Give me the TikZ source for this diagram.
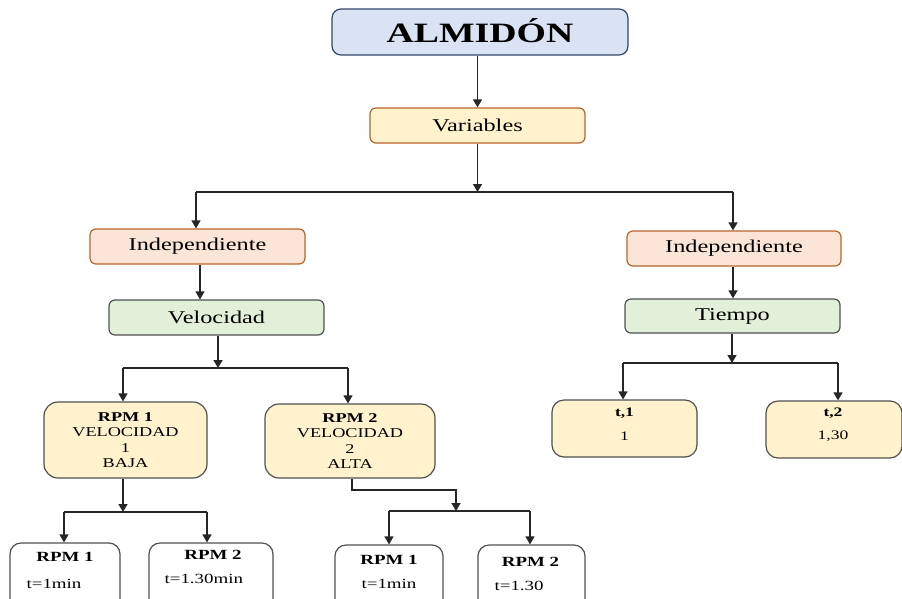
\documentclass[tikz,border=0pt]{standalone}
\usepackage{fontspec}
\setmainfont{Liberation Serif}[FakeStretch=1.35]
\usetikzlibrary{arrows.meta,calc}

\definecolor{topfill}{HTML}{DAE3F3}
\definecolor{topdraw}{HTML}{34486B}
\definecolor{yelfill}{HTML}{FFF2CC}
\definecolor{orgdraw}{HTML}{B8642A}
\definecolor{pchfill}{HTML}{FBE5D6}
\definecolor{grnfill}{HTML}{E2F0D9}
\definecolor{grydraw}{HTML}{505050}

\tikzset{
  box/.style={rectangle, rounded corners=6pt, line width=1.2pt, inner sep=0pt, align=center},
  titlebox/.style={box, rounded corners=9pt, fill=topfill, draw=topdraw,
    font=\fontsize{28}{30}\selectfont\bfseries},
  varbox/.style={box, fill=yelfill, draw=orgdraw, font=\fontsize{18}{20}\selectfont},
  indbox/.style={box, fill=pchfill, draw=orgdraw, font=\fontsize{18}{20}\selectfont},
  grnbox/.style={box, fill=grnfill, draw=grydraw, font=\fontsize{18}{20}\selectfont},
  rpmbox/.style={box, rounded corners=14pt, fill=yelfill, draw=grydraw,
    font=\fontsize{13.5}{15.3}\selectfont},
  tbox/.style={box, rounded corners=12pt, fill=yelfill, draw=grydraw},
  leafbox/.style={box, rounded corners=11pt, fill=white, draw=grydraw},
  lbl/.style={inner sep=0pt, font=\fontsize{14}{16}\selectfont},
  tlbl/.style={inner sep=0pt, font=\fontsize{13}{15}\selectfont},
  wire/.style={line width=1.4pt, draw=black!85},
  arr/.style={wire, -{Triangle[length=8pt,width=9pt]}},
}

\begin{document}
\begin{tikzpicture}[x=1pt,y=-1pt]
\useasboundingbox (0,0) rectangle (902,598);
\clip (0,0) rectangle (902,598);

% boxes
\node[titlebox, minimum width=296pt, minimum height=46pt] (alm) at (480,32) {\raisebox{3pt}{ALMIDÓN}};
\node[varbox, minimum width=215pt, minimum height=35pt] (var) at (477.5,125.5) {Variables};
\node[indbox, minimum width=215pt, minimum height=35pt] (indL) at (197.5,246.5) {Independiente};
\node[grnbox, minimum width=215pt, minimum height=35pt] (vel) at (216.5,317.5) {Velocidad};
\node[indbox, minimum width=214pt, minimum height=35pt] (indR) at (734,248.5) {Independiente};
\node[grnbox, minimum width=215pt, minimum height=34pt] (tiem) at (732.5,316) {Tiempo};

\node[rpmbox, minimum width=163pt, minimum height=76pt] (rpm1) at (125.5,440)
  {\textbf{RPM 1}\\VELOCIDAD\\1\\BAJA};
\node[rpmbox, minimum width=170pt, minimum height=74pt] (rpm2) at (350,441)
  {\textbf{RPM 2}\\VELOCIDAD\\2\\ALTA};

\node[tbox, minimum width=145pt, minimum height=57pt] (t1) at (624.5,428.5) {};
\node[tlbl] (t1a) at ($(t1.north)+(0,14)$) {\textbf{t,1}};
\node[tlbl] (t1b) at ($(t1.north)+(0,37)$) {1};
\node[tbox, minimum width=136pt, minimum height=57pt] (t2) at (834,429.5) {};
\node[tlbl] (t2a) at ($(t2.north)+(-1,13)$) {\textbf{t,2}};
\node[tlbl] (t2b) at ($(t2.north)+(-1,36)$) {1,30};

% lower row (runs past the bottom edge)
\node[leafbox, minimum width=110pt, minimum height=70pt] (b1) at (65,578) {};
\node[lbl] (b1a) at ($(b1.north)+(0,14)$) {\textbf{RPM 1}};
\node[lbl, anchor=west] (b1b) at ($(b1.north west)+(17,42)$) {t=1min};
\node[leafbox, minimum width=124pt, minimum height=70pt] (b2) at (211,578) {};
\node[lbl] (b2a) at ($(b2.north)+(2,12)$) {\textbf{RPM 2}};
\node[lbl, anchor=west] (b2b) at ($(b2.north west)+(16,37)$) {t=1.30min};
\node[leafbox, minimum width=108pt, minimum height=70pt] (b3) at (389,580) {};
\node[lbl] (b3a) at ($(b3.north)+(0,15)$) {\textbf{RPM 1}};
\node[lbl] (b3b) at ($(b3.north)+(0,40)$) {t=1min};
\node[leafbox, minimum width=107pt, minimum height=70pt] (b4) at (531.5,580) {};
\node[lbl] (b4a) at ($(b4.north)+(-1,17)$) {\textbf{RPM 2}};
\node[lbl, anchor=west] (b4b) at ($(b4.north west)+(17,42)$) {t=1.30};

% junction points
\coordinate (j1) at (477.5,192);
\coordinate (j1L) at (196,192);
\coordinate (j1R) at (733,192);
\coordinate (j2) at (218,368);
\coordinate (j2L) at (123,368);
\coordinate (j2R) at (348,368);
\coordinate (j3) at (732,363);
\coordinate (j3L) at (623,363);
\coordinate (j3R) at (838,363);
\coordinate (j4) at (123,512);
\coordinate (j4L) at (64,512);
\coordinate (j4R) at (207,512);
\coordinate (e1) at (352,490);
\coordinate (j5) at (456,511);
\coordinate (j5L) at (389,511);
\coordinate (j5R) at (530,511);

% connectors
\draw[arr] (alm.south -| var.north) -- (var.north);
\draw[arr] (var.south) -- (j1);
\draw[wire] (j1L) -- (j1R);
\draw[arr] (j1L) -- (j1L |- indL.north);
\draw[arr] (j1R) -- (j1R |- indR.north);

\draw[arr] ([xshift=2.5pt]indL.south) -- ([xshift=2.5pt]indL.south |- vel.north);
\draw[arr] ([xshift=-1pt]indR.south) -- ([xshift=-1pt]indR.south |- tiem.north);

\draw[arr] (vel.south -| j2) -- (j2);
\draw[wire] (j2L) -- (j2R);
\draw[arr] (j2L) -- (j2L |- rpm1.north);
\draw[arr] (j2R) -- (j2R |- rpm2.north);

\draw[arr] (tiem.south -| j3) -- (j3);
\draw[wire] (j3L) -- (j3R);
\draw[arr] (j3L) -- (j3L |- t1.north);
\draw[arr] (j3R) -- (j3R |- t2.north);

\draw[arr] (rpm1.south -| j4) -- (j4);
\draw[wire] (j4L) -- (j4R);
\draw[arr] (j4L) -- (j4L |- b1.north);
\draw[arr] (j4R) -- (j4R |- b2.north);

\draw[arr] (rpm2.south -| e1) -- (e1) -- (e1 -| j5) -- (j5);
\draw[wire] (j5L) -- (j5R);
\draw[arr] (j5L) -- (j5L |- b3.north);
\draw[arr] (j5R) -- (j5R |- b4.north);
\end{tikzpicture}
\end{document}
